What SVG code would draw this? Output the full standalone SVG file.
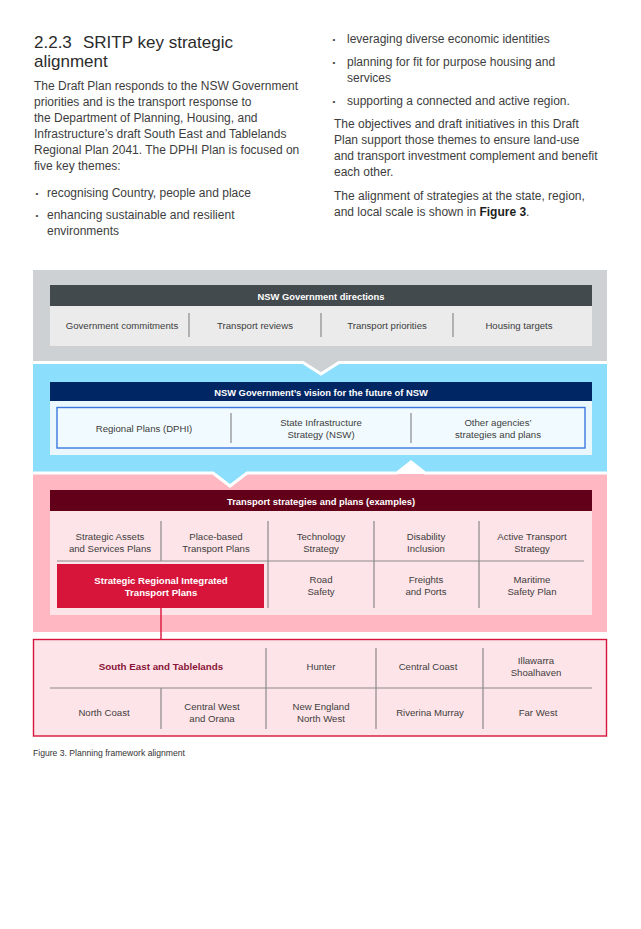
<svg xmlns="http://www.w3.org/2000/svg" width="641" height="929" viewBox="0 0 641 929">
<style>
text{font-family:"Liberation Sans",Arial,sans-serif}
.h{font-size:17px;fill:#2b2b2b}
.b{font-size:12px;fill:#3d3d3d}
.bl{font-size:8px;fill:#3d3d3d}
.bb{font-size:12px;fill:#1e1e1e;font-weight:bold}
.it{font-size:9.6px;fill:#3d3d3d;text-anchor:middle}
.hd{font-size:9.4px;fill:#fff;font-weight:bold;text-anchor:middle}
.wt{font-size:9.6px;fill:#fff;font-weight:bold;text-anchor:middle}
.mr{font-size:9.8px;fill:#8a1538;font-weight:bold;text-anchor:middle}
.dv{stroke:#8a8a8a;stroke-width:1.2;fill:none}
.cap{font-size:8.6px;fill:#333}
.gap{fill:none;stroke:#fff;stroke-width:3;stroke-linejoin:miter}
</style>

<g id="text-left">
<text class="h" x="34" y="48">2.2.3</text>
<text class="h" x="83" y="48">SRITP key strategic</text>
<text class="h" x="34" y="66.5">alignment</text>
<text class="b" x="34" y="90">The Draft Plan responds to the NSW Government</text>
<text class="b" x="34" y="106">priorities and is the transport response to</text>
<text class="b" x="34" y="122">the Department of Planning, Housing, and</text>
<text class="b" x="34" y="138">Infrastructure’s draft South East and Tablelands</text>
<text class="b" x="34" y="154">Regional Plan 2041. The DPHI Plan is focused on</text>
<text class="b" x="34" y="170">five key themes:</text>
<text class="bl" x="35.5" y="196">•</text>
<text class="b" x="47" y="197">recognising Country, people and place</text>
<text class="bl" x="35.5" y="218">•</text>
<text class="b" x="47" y="219">enhancing sustainable and resilient</text>
<text class="b" x="47" y="235">environments</text>
</g>

<g id="text-right">
<text class="bl" x="332.5" y="42">•</text>
<text class="b" x="347" y="43">leveraging diverse economic identities</text>
<text class="bl" x="332.5" y="65">•</text>
<text class="b" x="347" y="66">planning for fit for purpose housing and</text>
<text class="b" x="347" y="82">services</text>
<text class="bl" x="332.5" y="104">•</text>
<text class="b" x="347" y="105">supporting a connected and active region.</text>
<text class="b" x="334" y="128">The objectives and draft initiatives in this Draft</text>
<text class="b" x="334" y="144">Plan support those themes to ensure land-use</text>
<text class="b" x="334" y="160">and transport investment complement and benefit</text>
<text class="b" x="334" y="176">each other.</text>
<text class="b" x="334" y="200">The alignment of strategies at the state, region,</text>
<text class="b" x="334" y="216">and local scale is shown in <tspan class="bb">Figure 3</tspan>.</text>
</g>

<!-- section backgrounds -->
<g id="bands">
<rect x="33" y="474" width="574" height="158" fill="#ffb7c2"/>
<polygon points="33,473 213,473 230,486 247,473 397,473 411,462 425,473 607,473 607,362 33,362" fill="#8cdffc"/>
<polygon points="33,270 607,270 607,362.5 339,362.5 321,374 303,362.5 33,362.5" fill="#cdd1d4"/>
<polyline class="gap" points="33,362.5 303,362.5 321,374 339,362.5 607,362.5"/>
<polyline class="gap" points="33,473 213,473 230,486 247,473 397,473 411,462 425,473 607,473"/>
</g>

<g id="nsw-directions">
<rect x="50" y="285" width="542" height="21" fill="#434a4d"/>
<text class="hd" x="321" y="299.5">NSW Government directions</text>
<rect x="50" y="306" width="542" height="40" fill="#ebebeb"/>
<path class="dv" d="M189 313V337M321 313V337M453 313V337"/>
<text class="it" x="122" y="328.5">Government commitments</text>
<text class="it" x="255" y="328.5">Transport reviews</text>
<text class="it" x="387" y="328.5">Transport priorities</text>
<text class="it" x="519" y="328.5">Housing targets</text>
</g>

<g id="nsw-vision">
<rect x="50" y="382" width="542" height="19" fill="#002664"/>
<text class="hd" x="321" y="395.5">NSW Government’s vision for the future of NSW</text>
<rect x="50" y="401" width="542" height="54" fill="#eaf7fd"/>
<rect x="57" y="407.5" width="528" height="40.5" fill="#f1fafe" stroke="#3b78de" stroke-width="1.4"/>
<path class="dv" d="M231 413V443M411 413V443"/>
<text class="it" x="144" y="431.5">Regional Plans (DPHI)</text>
<text class="it" x="321" y="425.5">State Infrastructure</text>
<text class="it" x="321" y="437.5">Strategy (NSW)</text>
<text class="it" x="498" y="425.5">Other agencies’</text>
<text class="it" x="498" y="437.5">strategies and plans</text>
</g>

<g id="transport-strategies">
<rect x="50" y="490" width="542" height="21" fill="#630019"/>
<text class="hd" x="321" y="504.5">Transport strategies and plans (examples)</text>
<rect x="50" y="511" width="542" height="104" fill="#fde4e8"/>
<path class="dv" d="M57 561H584M161 521V561M268 521V608M374 521V608M479 521V608"/>
<text class="it" x="110" y="540">Strategic Assets</text>
<text class="it" x="110" y="551.5">and Services Plans</text>
<text class="it" x="216" y="540">Place-based</text>
<text class="it" x="216" y="551.5">Transport Plans</text>
<text class="it" x="321" y="540">Technology</text>
<text class="it" x="321" y="551.5">Strategy</text>
<text class="it" x="426" y="540">Disability</text>
<text class="it" x="426" y="551.5">Inclusion</text>
<text class="it" x="532" y="540">Active Transport</text>
<text class="it" x="532" y="551.5">Strategy</text>
<text class="it" x="321" y="583">Road</text>
<text class="it" x="321" y="594.5">Safety</text>
<text class="it" x="426" y="583">Freights</text>
<text class="it" x="426" y="594.5">and Ports</text>
<text class="it" x="532" y="583">Maritime</text>
<text class="it" x="532" y="594.5">Safety Plan</text>
</g>

<g id="sritp">
<rect x="57" y="564" width="207" height="44" fill="#d7153a"/>
<text class="wt" x="161" y="584">Strategic Regional Integrated</text>
<text class="wt" x="161" y="596">Transport Plans</text>
</g>

<g id="connectors">
<line x1="161" y1="608" x2="161" y2="639" stroke="#d7153a" stroke-width="1.4"/>
</g>

<g id="regions">
<rect x="33.5" y="639.5" width="573" height="96.5" fill="#fde4e8" stroke="#d7153a" stroke-width="1.4"/>
<path class="dv" d="M50 688H592M266 648V729M376 648V729M483 648V729M161 688V729"/>
<text class="mr" x="161" y="669.5">South East and Tablelands</text>
<text class="it" x="321" y="669.5">Hunter</text>
<text class="it" x="428" y="669.5">Central Coast</text>
<text class="it" x="536" y="663.5">Illawarra</text>
<text class="it" x="536" y="675.5">Shoalhaven</text>
<text class="it" x="104" y="715.5">North Coast</text>
<text class="it" x="212" y="710">Central West</text>
<text class="it" x="212" y="722">and Orana</text>
<text class="it" x="321" y="710">New England</text>
<text class="it" x="321" y="722">North West</text>
<text class="it" x="430" y="715.5">Riverina Murray</text>
<text class="it" x="538" y="715.5">Far West</text>
</g>

<text class="cap" x="33" y="756">Figure 3. Planning framework alignment</text>
</svg>
